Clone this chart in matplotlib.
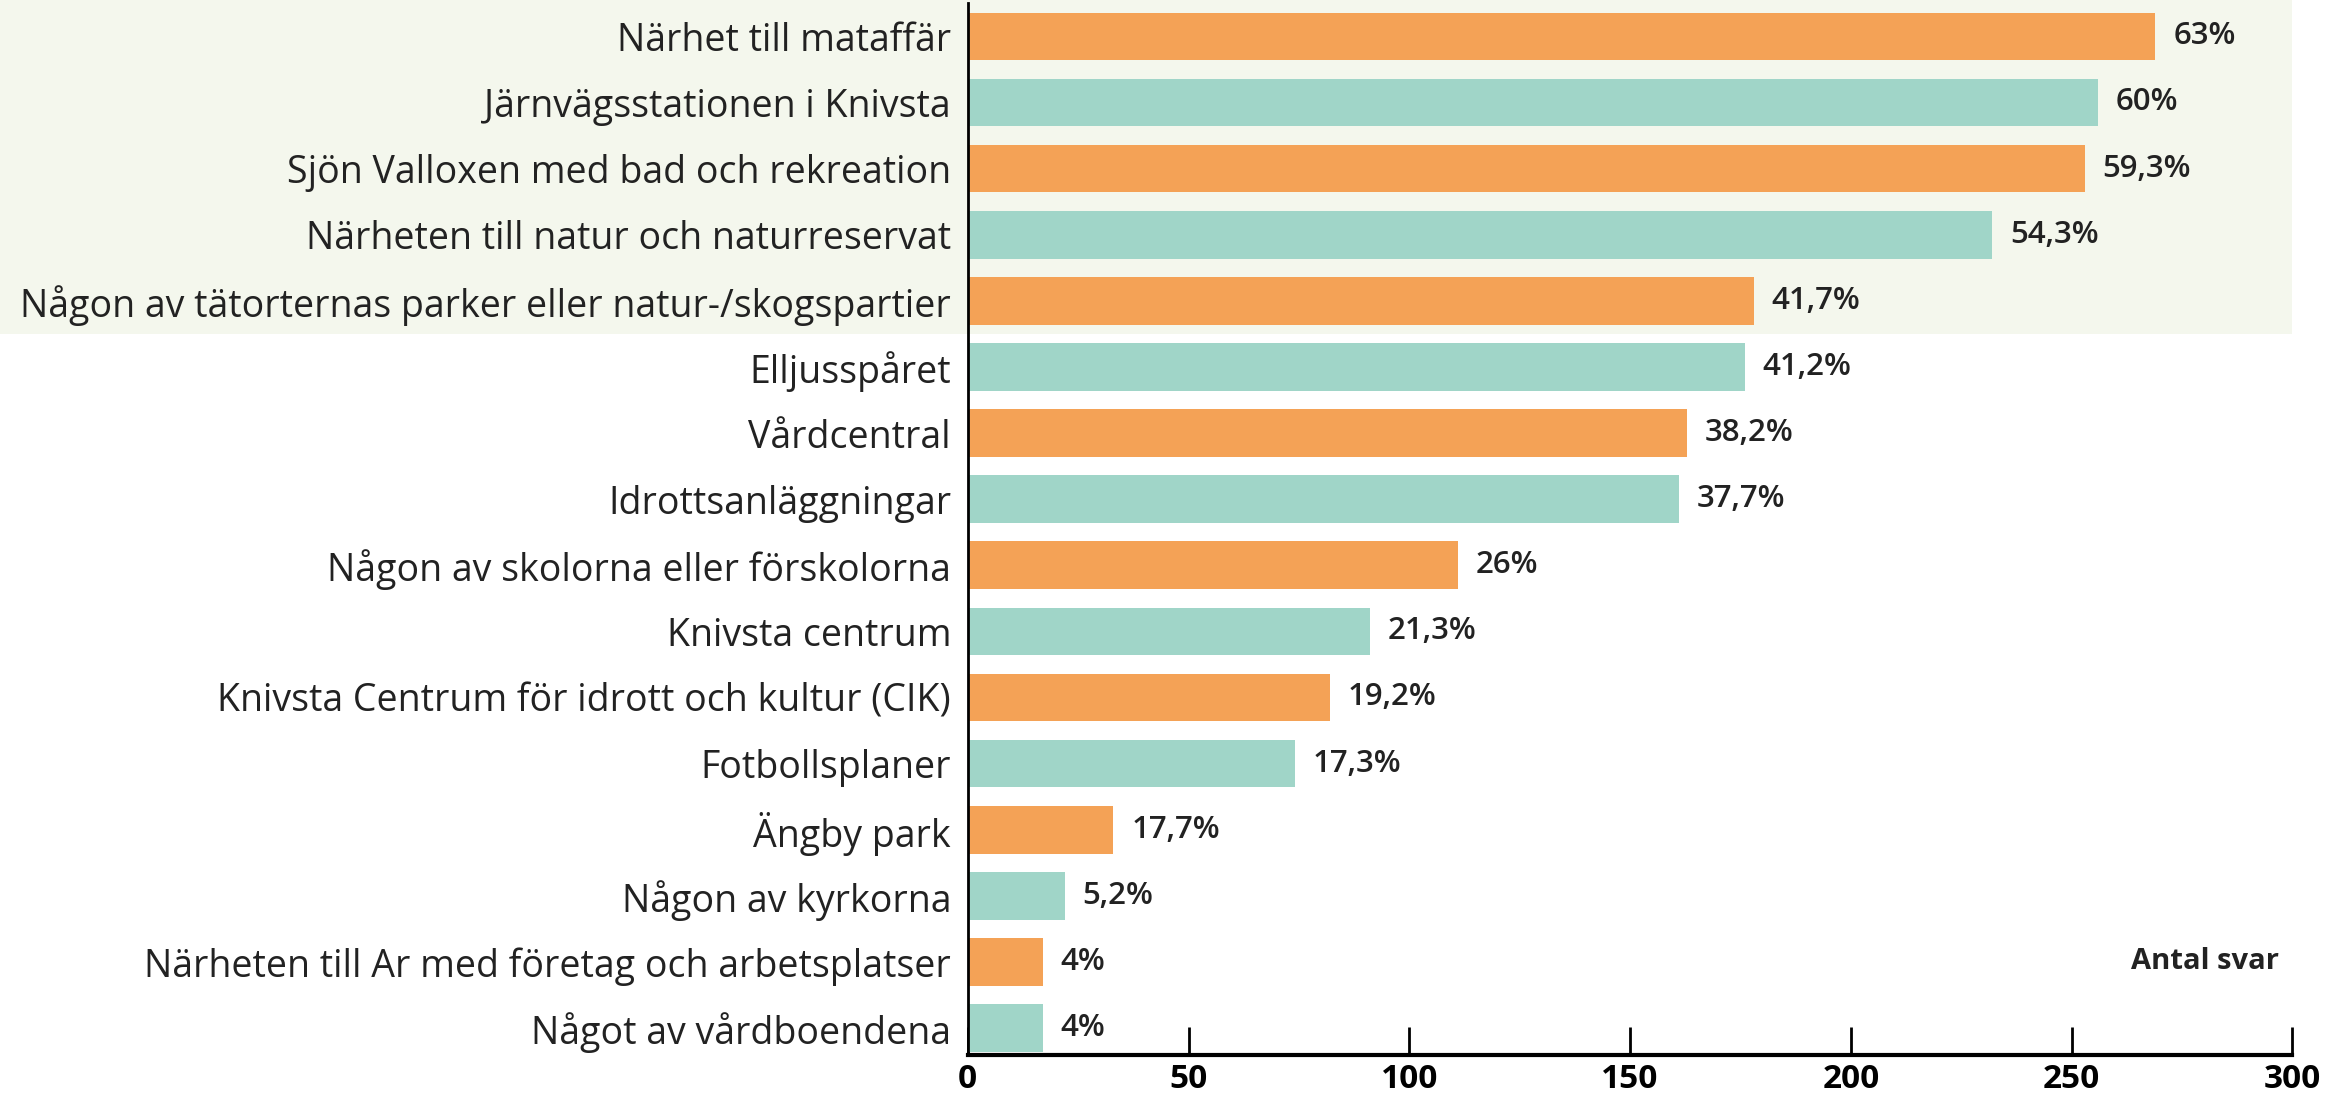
import numpy as np
import matplotlib.pyplot as plt
from matplotlib.patches import Rectangle
from matplotlib import transforms

plt.rcParams['font.family'] = ['Open Sans', 'DejaVu Sans']

# categories (top to bottom)
kategorier = [
    'Närhet till mataffär',
    'Järnvägsstationen i Knivsta',
    'Sjön Valloxen med bad och rekreation',
    'Närheten till natur och naturreservat',
    'Någon av tätorternas parker eller natur-/skogspartier',
    'Elljusspåret',
    'Vårdcentral',
    'Idrottsanläggningar',
    'Någon av skolorna eller förskolorna',
    'Knivsta centrum',
    'Knivsta Centrum för idrott och kultur (CIK)',
    'Fotbollsplaner',
    'Ängby park',
    'Någon av kyrkorna',
    'Närheten till Ar med företag och arbetsplatser',
    'Något av vårdboendena',
]
antal = [269, 256, 253, 232, 178, 176, 163, 161, 111, 91, 82, 74, 33, 22, 17, 17]
procent = ['63%', '60%', '59,3%', '54,3%', '41,7%', '41,2%', '38,2%', '37,7%',
           '26%', '21,3%', '19,2%', '17,3%', '17,7%', '5,2%', '4%', '4%']
xticks = [0, 50, 100, 150, 200, 250, 300]

orange = '#f4a256'
teal = '#a0d5c8'
farger = [orange if i % 2 == 0 else teal for i in range(len(kategorier))]

fig = plt.figure(figsize=(23.32, 11.10), dpi=100)
ax = fig.add_axes([0.415, 0.050, 0.568, 0.947])

y = np.arange(len(kategorier))
ax.barh(y, antal, height=0.72, color=farger, zorder=2)

# highlighted band behind the top five rows
trans = transforms.blended_transform_factory(fig.transFigure, ax.transData)
ax_right = 0.415 + 0.568
ax.add_patch(Rectangle((0, 4.5), ax_right, -6.0, transform=trans,
                       facecolor='#f4f7ed', edgecolor='none', zorder=0,
                       clip_on=False))

for yi, v, p in zip(y, antal, procent):
    ax.text(v + 4, yi, p, va='center', ha='left', fontsize=22.5,
            fontweight='semibold', color='#222222', zorder=3)

ax.set_yticks(y)
ax.set_yticklabels(kategorier, fontsize=27, color='#222222')
ax.tick_params(axis='y', length=0, pad=12)

ax.set_xlim(0, 300)
ax.set_ylim(15.4, -0.5)
ax.set_xticks(xticks)
ax.set_xticklabels([str(t) for t in xticks], fontsize=24, fontweight='bold')
ax.tick_params(axis='x', direction='in', length=20, width=2, pad=6)

ax.spines['top'].set_visible(False)
ax.spines['right'].set_visible(False)
ax.spines['left'].set_linewidth(2)
ax.spines['bottom'].set_linewidth(3)
ax.set_facecolor('none')
ax.patch.set_alpha(0)

ax.text(297, 14, 'Antal svar', ha='right', va='center', fontsize=21,
        fontweight='bold', color='#222222')

fig.savefig('out.png', dpi=100)
